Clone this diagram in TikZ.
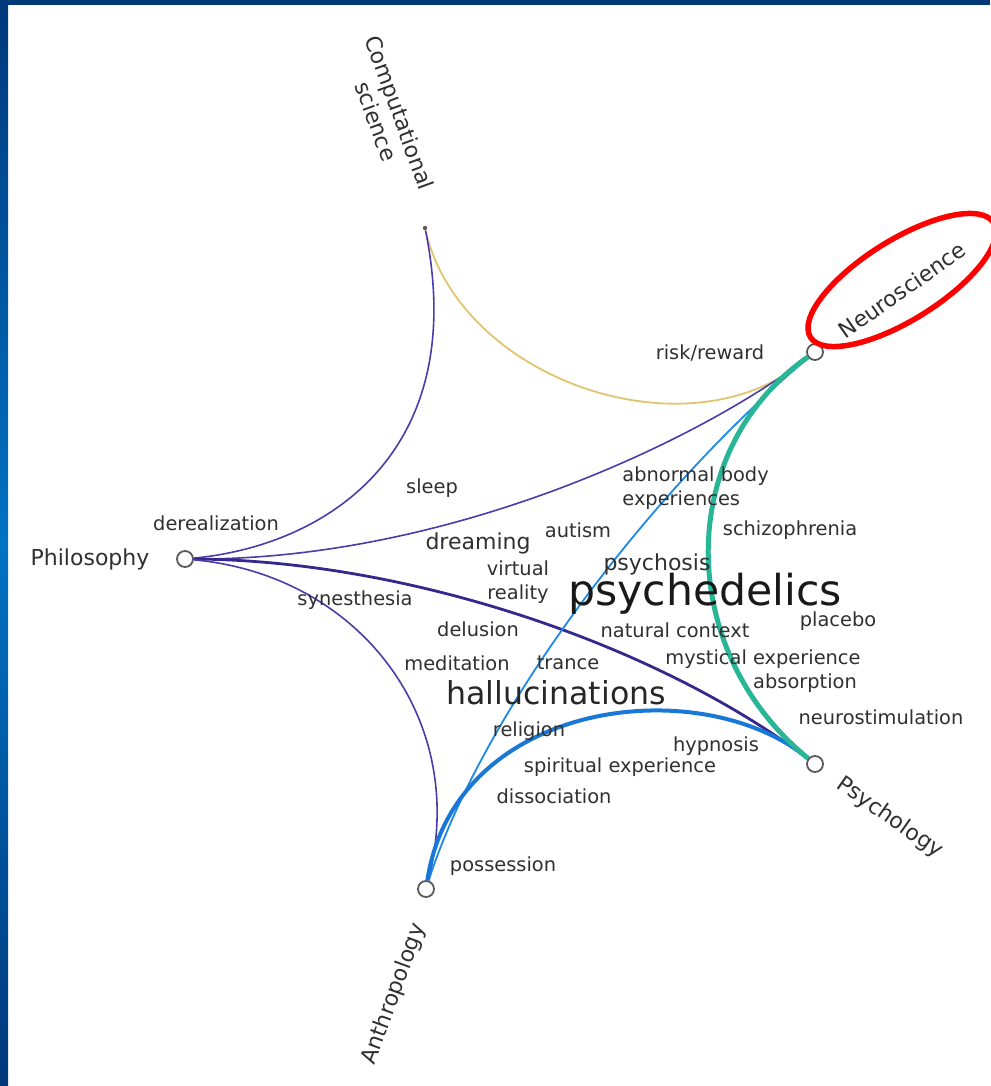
\documentclass[tikz,border=0pt]{standalone}
\usepackage{fontspec}
\setmainfont{DejaVu Sans}
\usetikzlibrary{positioning, shapes.geometric}

\definecolor{navy}{RGB}{0,56,122}
\definecolor{barblue}{RGB}{0,114,196}
\definecolor{hubgray}{RGB}{90,90,90}
\definecolor{txt}{RGB}{48,48,48}
\definecolor{philo}{RGB}{75,60,170}
\definecolor{philodark}{RGB}{52,40,140}
\definecolor{anthro}{RGB}{30,136,229}
\definecolor{anthrodark}{RGB}{25,120,215}
\definecolor{neuteal}{RGB}{40,182,150}
\definecolor{compsand}{RGB}{226,196,112}

\begin{document}
\begin{tikzpicture}[x=0.5pt, y=-0.5pt,
  hub/.style={circle, draw=hubgray, fill=white, line width=0.9pt, minimum size=8pt, inner sep=0},
  field/.style={text=txt, inner sep=0, align=center, font=\fontsize{11}{12.5}\selectfont},
  word/.style={text=txt, inner sep=0, align=center, font=\fontsize{9.7}{12}\selectfont},
  midword/.style={word, font=\fontsize{11}{12}\selectfont},
  bigword/.style={word, text=black!85, font=\fontsize{15.8}{18}\selectfont},
  hugeword/.style={word, text=black!90, font=\fontsize{21.3}{24}\selectfont}]
  \useasboundingbox (0,0) rectangle (990,1086);
  \fill[white] (0,0) rectangle (990,1086);
  \shade[top color=navy, bottom color=navy, middle color=barblue] (0,0) rectangle (8,1086);
  \fill[navy] (0,0) rectangle (990,5);

  \draw (185,559) node[hub](phi) {};
  \draw (815,352) node[hub](neu) {};
  \draw (815,764) node[hub](psy) {};
  \draw (426,889) node[hub](ant) {};
  \draw (425,228) node[circle, fill=hubgray, minimum size=2.2pt, inner sep=0](csc) {};

  \draw[compsand, line width=0.9pt] (csc) .. controls (460,380) and (690,460) .. (neu);
  \draw[philo, line width=0.8pt] (csc) .. controls (470,450) and (330,545) .. (phi);
  \draw[philo, line width=0.8pt] (phi) .. controls (450,560) and (700,440) .. (neu);
  \draw[philodark, line width=1.4pt] (phi) .. controls (400,560) and (650,640) .. (psy);
  \draw[philo, line width=0.8pt] (phi) .. controls (360,575) and (470,720) .. (ant);
  \draw[anthro, line width=0.9pt] (ant) .. controls (480,720) and (640,500) .. (neu);
  \draw[anthrodark, line width=2pt] (ant) .. controls (455,700) and (700,670) .. (psy);
  \draw[neuteal, line width=2.5pt] (neu) .. controls (675,450) and (675,650) .. (psy);

  \draw (90,559) node[field](philbl) {Philosophy};
  \draw (902,290) node[field, rotate=35](neulbl) {Neuroscience};
  \draw (890,818) node[field, rotate=-35](psylbl) {Psychology};
  \draw (394,994) node[field, rotate=70](antlbl) {Anthropology};
  \draw (388,117) node[field, rotate=-70](csclbl) {Computational\\science};
  \draw[red, line width=2.75pt, rotate around={32:(902,280)}] (902,280) ellipse [x radius=108, y radius=40];

  \draw (710,353) node[word](riskw) {risk/reward};
  \draw (432,488) node[word](sleepw) {sleep};
  \draw (216,523) node[word](dereal) {derealization};
  \draw (478,543) node[midword](dreamw) {dreaming};
  \draw (578,530) node[word](autw) {autism};
  \draw (622,488) node[word, anchor=west, align=left](abnw) {abnormal body\\experiences};
  \draw (790,530) node[word](schizw) {schizophrenia};
  \draw (657,564) node[midword](psychw) {psychosis};
  \draw (518,582) node[word](vrw) {virtual\\reality};
  \draw (705,594) node[hugeword](psyched) {psychedelics};
  \draw (355,600) node[word](synw) {synesthesia};
  \draw (838,621) node[word](placw) {placebo};
  \draw (478,629) node[word](delw) {delusion};
  \draw (675,630) node[word](natw) {natural context};
  \draw (457,663) node[word](medw) {meditation};
  \draw (568,663) node[word](trw) {trance};
  \draw (763,659) node[word](mystw) {mystical experience};
  \draw (805,683) node[word](absw) {absorption};
  \draw (556,693) node[bigword](hallu) {hallucinations};
  \draw (881,717) node[word](neurow) {neurostimulation};
  \draw (529,731) node[word](relw) {religion};
  \draw (716,746) node[word](hypw) {hypnosis};
  \draw (620,767) node[word](spirw) {spiritual experience};
  \draw (554,796) node[word](dissw) {dissociation};
  \draw (503,866) node[word](possw) {possession};
\end{tikzpicture}
\end{document}
